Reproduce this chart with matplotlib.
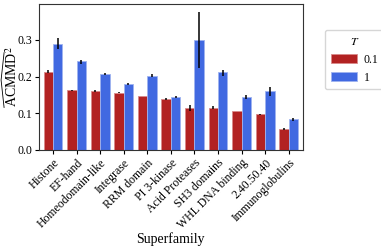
import matplotlib
matplotlib.use("Agg")
import matplotlib.pyplot as plt
from matplotlib.lines import Line2D
import numpy as np

plt.rcParams['font.family'] = ['Liberation Serif', 'DejaVu Serif']
plt.rcParams['mathtext.fontset'] = 'stix'

families = ['Histone', 'EF-hand', 'Homeodomain-like', 'Integrase', 'RRM domain',
            'PI 3-kinase', 'Acid Proteases', 'SH3 domains', 'WHL DNA binding',
            '2.40.50.40', 'Immunoglobulins']
temps = ['0.1', '1']

vals_01 = [0.213, 0.162, 0.161, 0.156, 0.147, 0.138, 0.114, 0.115, 0.106, 0.097, 0.057]
lo_01 = [0.209, 0.160, 0.158, 0.154, 0.146, 0.136, 0.105, 0.110, 0.105, 0.096, 0.055]
hi_01 = [0.217, 0.164, 0.164, 0.158, 0.148, 0.140, 0.122, 0.120, 0.107, 0.098, 0.059]

vals_1 = [0.290, 0.242, 0.207, 0.179, 0.202, 0.145, 0.301, 0.211, 0.145, 0.160, 0.083]
lo_1 = [0.275, 0.235, 0.203, 0.177, 0.198, 0.142, 0.224, 0.202, 0.138, 0.147, 0.079]
hi_1 = [0.304, 0.246, 0.210, 0.181, 0.206, 0.148, 0.376, 0.219, 0.149, 0.170, 0.087]

colors = ['#b22222', '#4169e1']
edges = ['#d88a8a', '#9fb3f0']

fig = plt.figure(figsize=(3.81, 2.47), dpi=100)
ax = fig.add_axes([0.102, 0.394, 0.693, 0.588])

x = np.arange(len(families))
w = 0.4
series = [(vals_01, lo_01, hi_01), (vals_1, lo_1, hi_1)]
for i, (v, lo, hi) in enumerate(series):
    v = np.array(v)
    err = [v - np.array(lo), np.array(hi) - v]
    ax.bar(x + (i - 0.5) * w, v, width=w, color=colors[i], edgecolor=edges[i],
           linewidth=0.6, label=temps[i], yerr=err,
           error_kw=dict(ecolor='black', elinewidth=1.1, capsize=0))

ax.set_xlim(-0.6, len(families) - 0.4)
ax.set_ylim(0, 0.397)
ax.set_yticks([0.0, 0.1, 0.2, 0.3])
ax.set_xticks(x)
ax.set_xticklabels(families, rotation=45, ha='right', rotation_mode='anchor')
ax.tick_params(labelsize=8.5, length=3, pad=2)
for s in ax.spines.values():
    s.set_color('#333333')

# plain label, the wide hat is drawn by hand next to it
ax.set_ylabel(r'ACMMD$^2$', fontsize=10)
ax.yaxis.set_label_coords(-0.07, 0.5)
ax.set_xlabel('Superfamily', fontsize=10, labelpad=1)

ax.legend(title='$T$', loc='center left', bbox_to_anchor=(1.06, 0.62),
          fontsize=8.5, title_fontsize=8.5, handlelength=2.2,
          borderpad=0.5, handletextpad=0.6)

fig.canvas.draw()
bb = ax.yaxis.label.get_window_extent()
y0, y1 = bb.y0, bb.y1 - 6
xb = bb.x0 - 0.5
hat_px = np.array([[xb, y0], [xb - 3, (y0 + y1) / 2], [xb, y1]])
hat = fig.transFigure.inverted().transform(hat_px)
fig.add_artist(Line2D(hat[:, 0], hat[:, 1], transform=fig.transFigure,
                      color='black', linewidth=0.6))

fig.savefig('out.png', dpi=100)
